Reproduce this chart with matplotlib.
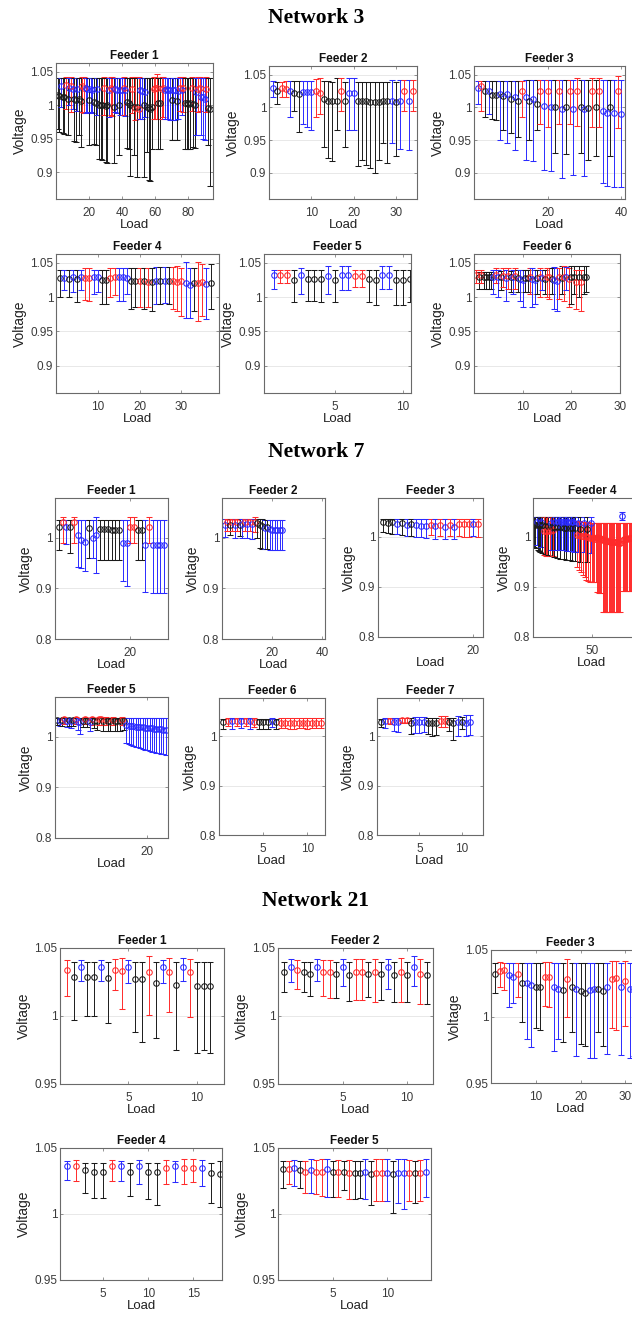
import numpy as np
import matplotlib.pyplot as plt

plt.rcParams['font.family'] = ['Liberation Sans', 'DejaVu Sans']

W, H = 632, 1323
COLORS = {'k': '#1a1a1a', 'b': '#2a2aff', 'r': '#ff2a2a'}

# ---------------- Network 3 ----------------
n3f1_phase = ("kkbkkrkbrb" "kkbkkrrbbk" "bbkkbkkkrk" "kbrrkbbkbb" "rbkkkrkrkr"
              "bbkbkkkkrr" "rkkrrbbbbk" "bbkbrbrkkk" "krkkbrrbbb" "rkk")
n3f1_mean = [1.015, 1.013, 1.028, 1.012, 1.012, 1.030, 1.010, 1.025, 1.028, 1.024,
             1.010, 1.008, 1.024, 1.010, 1.006, 1.028, 1.026, 1.025, 1.024, 1.008,
             1.024, 1.023, 1.005, 1.003, 1.024, 1.001, 1.000, 1.000, 1.026, 0.999,
             1.000, 1.022, 1.025, 1.024, 0.998, 1.024, 1.023, 1.000, 1.023, 1.022,
             1.025, 1.022, 1.005, 1.003, 1.000, 1.024, 0.998, 0.996, 0.997, 0.995,
             1.022, 1.021, 1.000, 1.020, 0.998, 0.996, 0.995, 0.997, 1.024, 1.025,
             1.026, 1.004, 1.004, 1.024, 1.025, 1.023, 1.024, 1.022, 1.023, 1.008,
             1.022, 1.023, 1.006, 1.021, 1.025, 1.022, 1.025, 1.003, 1.003, 1.002,
             1.003, 1.025, 1.002, 1.001, 1.020, 1.024, 1.025, 1.012, 1.012, 1.010,
             1.024, 0.996, 0.995]
n3f1_low = [0.965, 0.960, 0.998, 0.958, 0.957, 0.995, 0.956, 1.000, 0.990, 0.995,
            0.946, 0.945, 0.992, 0.955, 0.938, 0.990, 0.988, 0.988, 0.990, 0.940,
            0.990, 0.988, 0.942, 0.940, 0.985, 0.920, 0.919, 0.918, 0.985, 0.915,
            0.914, 0.982, 0.985, 0.984, 0.914, 0.990, 0.988, 0.925, 0.985, 0.985,
            0.985, 0.984, 0.936, 0.935, 0.895, 0.988, 0.925, 0.978, 0.893, 0.980,
            0.980, 0.980, 0.893, 0.982, 0.930, 0.888, 0.887, 0.935, 0.980, 0.980,
            0.980, 0.935, 0.935, 0.980, 0.982, 0.980, 0.980, 0.980, 0.978, 0.948,
            0.978, 0.978, 0.948, 0.980, 0.992, 0.985, 0.990, 0.935, 0.935, 0.935,
            0.935, 0.992, 0.937, 0.936, 0.955, 0.990, 0.992, 0.955, 0.950, 0.948,
            0.990, 0.940, 0.880]
n3f1_high = [1.040, 1.040, 1.041, 1.040, 1.040, 1.042, 1.040, 1.041, 1.042, 1.041,
             1.040, 1.040, 1.041, 1.040, 1.040, 1.042, 1.042, 1.041, 1.041, 1.040,
             1.041, 1.041, 1.040, 1.040, 1.041, 1.040, 1.040, 1.040, 1.042, 1.040,
             1.040, 1.041, 1.042, 1.042, 1.040, 1.041, 1.041, 1.040, 1.041, 1.041,
             1.042, 1.041, 1.040, 1.040, 1.040, 1.042, 1.040, 1.042, 1.040, 1.042,
             1.041, 1.041, 1.040, 1.041, 1.040, 1.040, 1.040, 1.040, 1.042, 1.042,
             1.047, 1.040, 1.040, 1.042, 1.042, 1.041, 1.041, 1.041, 1.041, 1.040,
             1.041, 1.041, 1.040, 1.041, 1.042, 1.041, 1.042, 1.040, 1.040, 1.040,
             1.040, 1.042, 1.040, 1.040, 1.041, 1.042, 1.042, 1.041, 1.041, 1.041,
             1.042, 1.040, 1.040]

n3f2_phase = "bkrrbkkbbb" "rrkkkkrkbb" "kkkkkkkkbk" "brbr"
n3f2_mean = [1.030, 1.025, 1.030, 1.028, 1.025, 1.022, 1.020, 1.024, 1.024, 1.023,
             1.025, 1.022, 1.012, 1.010, 1.010, 1.009, 1.025, 1.010, 1.022, 1.022,
             1.010, 1.010, 1.009, 1.008, 1.008, 1.008, 1.010, 1.009, 1.010, 1.008,
             1.010, 1.025, 1.010, 1.025]
n3f2_low = [1.015, 1.005, 1.016, 1.015, 0.985, 0.995, 0.962, 0.975, 0.970, 0.965,
            0.985, 0.990, 0.940, 0.922, 0.918, 0.965, 0.995, 0.940, 0.965, 0.965,
            0.910, 0.920, 0.912, 0.908, 0.900, 0.920, 0.945, 0.915, 0.945, 0.925,
            0.937, 0.995, 0.935, 0.995]
n3f2_high = [1.040, 1.038, 1.038, 1.040, 1.040, 1.040, 1.040, 1.040, 1.040, 1.040,
             1.043, 1.045, 1.040, 1.040, 1.038, 1.045, 1.045, 1.038, 1.045, 1.045,
             1.038, 1.038, 1.038, 1.038, 1.038, 1.038, 1.038, 1.038, 1.042, 1.038,
             1.042, 1.042, 1.042, 1.042]

n3f3_phase = "brkbkkbkbk" "bkrbkbkrbr" "bkrbkrbrkb" "krkrbbkbrb"
n3f3_mean = [1.030, 1.032, 1.025, 1.025, 1.018, 1.018, 1.020, 1.017, 1.020, 1.012,
             1.015, 1.010, 1.025, 1.015, 1.010, 1.012, 1.005, 1.025, 1.002, 1.025,
             1.000, 1.000, 1.025, 0.998, 1.000, 1.025, 0.998, 1.025, 1.000, 0.998,
             0.999, 1.025, 1.000, 1.025, 0.995, 0.992, 1.000, 0.991, 1.025, 0.990]
n3f3_low = [1.005, 0.995, 0.985, 0.990, 0.982, 0.980, 0.950, 0.965, 0.945, 0.960,
            0.935, 0.955, 0.985, 0.920, 0.950, 0.918, 0.965, 0.975, 0.905, 0.970,
            0.902, 0.930, 0.975, 0.892, 0.928, 0.975, 0.896, 0.972, 0.930, 0.895,
            0.920, 0.970, 0.925, 0.970, 0.885, 0.880, 0.925, 0.878, 0.968, 0.878]
n3f3_high = [1.040, 1.040, 1.040, 1.040, 1.040, 1.040, 1.040, 1.040, 1.040, 1.040,
             1.040, 1.040, 1.040, 1.042, 1.042, 1.042, 1.042, 1.042, 1.042, 1.042,
             1.042, 1.042, 1.042, 1.042, 1.042, 1.042, 1.042, 1.045, 1.042, 1.042,
             1.042, 1.045, 1.042, 1.045, 1.042, 1.042, 1.042, 1.042, 1.047, 1.042]

n3f4_phase = "kbkbkbrrbb" "kkrrbbbkkr" "krkbkbkrrr" "bbkrrbk"
n3f4_mean = [1.028, 1.028, 1.027, 1.029, 1.027, 1.030, 1.028, 1.028, 1.030, 1.029,
             1.025, 1.025, 1.028, 1.029, 1.029, 1.030, 1.028, 1.024, 1.023, 1.023,
             1.023, 1.022, 1.022, 1.024, 1.023, 1.024, 1.024, 1.023, 1.022, 1.024,
             1.020, 1.018, 1.021, 1.021, 1.022, 1.019, 1.021]
n3f4_low = [1.000, 1.010, 1.000, 1.008, 0.993, 1.010, 0.996, 0.995, 1.005, 1.008,
            0.990, 0.990, 1.000, 1.003, 0.995, 0.995, 1.005, 0.982, 0.985, 0.985,
            0.983, 0.985, 0.980, 0.990, 0.990, 0.992, 0.990, 0.982, 0.980, 0.972,
            0.970, 0.970, 0.980, 0.965, 0.972, 0.968, 0.982]
n3f4_high = [1.040, 1.040, 1.040, 1.040, 1.040, 1.040, 1.042, 1.042, 1.040, 1.040,
             1.040, 1.040, 1.042, 1.042, 1.043, 1.043, 1.043, 1.043, 1.043, 1.043,
             1.043, 1.043, 1.043, 1.044, 1.044, 1.044, 1.044, 1.044, 1.046, 1.043,
             1.052, 1.042, 1.043, 1.052, 1.048, 1.042, 1.048]

n3f5_phase = "brrkbkkkbk" "bbrrkkbbkk" "k"
n3f5_mean = [1.032, 1.033, 1.033, 1.025, 1.032, 1.027, 1.027, 1.026, 1.031, 1.025,
             1.032, 1.032, 1.031, 1.031, 1.026, 1.025, 1.032, 1.033, 1.025, 1.025,
             1.026]
n3f5_low = [1.012, 1.020, 1.020, 0.993, 1.005, 0.995, 0.995, 0.993, 1.005, 0.993,
            1.010, 1.010, 1.015, 1.015, 0.993, 0.988, 1.012, 1.012, 0.988, 0.988,
            0.993]
n3f5_high = [1.040, 1.040, 1.040, 1.040, 1.043, 1.040, 1.040, 1.040, 1.045, 1.040,
             1.045, 1.045, 1.040, 1.040, 1.040, 1.040, 1.045, 1.045, 1.040, 1.040,
             1.040]

n3f6_phase = "rkrkkkkbrb" "krbrkbrkbb" "kkrbbkrbkr" "rkbbrkrbrk" "krkrkk"
n3f6_mean = [1.033, 1.030, 1.033, 1.029, 1.029, 1.029, 1.029, 1.030, 1.032, 1.029,
             1.029, 1.031, 1.028, 1.031, 1.029, 1.029, 1.031, 1.028, 1.026, 1.025,
             1.028, 1.028, 1.030, 1.026, 1.025, 1.028, 1.030, 1.028, 1.027, 1.030,
             1.030, 1.027, 1.025, 1.024, 1.030, 1.028, 1.029, 1.030, 1.026, 1.030,
             1.029, 1.022, 1.030, 1.022, 1.030, 1.030]
n3f6_low = [1.020, 1.012, 1.020, 1.012, 1.012, 1.012, 1.012, 1.005, 1.020, 1.000,
            1.010, 1.015, 0.995, 1.012, 1.008, 1.005, 1.012, 1.008, 0.995, 0.985,
            1.008, 1.008, 1.005, 0.985, 0.990, 1.005, 1.000, 1.010, 1.005, 1.000,
            0.998, 1.005, 0.982, 0.980, 0.998, 1.005, 0.995, 1.010, 0.985, 0.990,
            1.005, 0.982, 1.000, 0.980, 1.005, 1.007]
n3f6_high = [1.040, 1.036, 1.040, 1.036, 1.036, 1.036, 1.036, 1.040, 1.042, 1.040,
             1.038, 1.042, 1.040, 1.042, 1.038, 1.040, 1.042, 1.040, 1.040, 1.040,
             1.040, 1.040, 1.042, 1.042, 1.040, 1.040, 1.042, 1.040, 1.040, 1.042,
             1.042, 1.042, 1.044, 1.042, 1.042, 1.046, 1.045, 1.044, 1.042, 1.045,
             1.046, 1.040, 1.045, 1.040, 1.046, 1.046]

# ---------------- Network 7 ----------------
n7f1_phase = "krbkrbbbkb" "bkkkkkkbbr" "rkkbrbbbb"
n7f1_mean = [1.020, 1.030, 1.020, 1.020, 1.030, 1.005, 0.995, 0.992, 1.018, 1.000,
             1.005, 1.016, 1.016, 1.016, 1.015, 1.015, 1.015, 0.990, 0.990, 1.020,
             1.020, 1.015, 1.015, 0.985, 1.020, 0.985, 0.985, 0.985, 0.985]
n7f1_low = [0.975, 0.990, 0.988, 0.970, 0.990, 0.942, 0.940, 0.935, 0.960, 0.960,
            0.930, 0.955, 0.955, 0.955, 0.955, 0.955, 0.955, 0.915, 0.905, 0.990,
            0.990, 0.955, 0.955, 0.892, 0.990, 0.890, 0.890, 0.890, 0.890]
n7f1_high = [1.035, 1.040, 1.035, 1.035, 1.040, 1.035, 1.035, 1.035, 1.035, 1.035,
             1.040, 1.035, 1.035, 1.035, 1.035, 1.035, 1.035, 1.035, 1.035, 1.040,
             1.040, 1.035, 1.035, 1.035, 1.040, 1.035, 1.035, 1.035, 1.035]

n7f2_phase = "brkrbrkbrb" "rbrkkkbkbb" "bbbb"
n7f2_mean = [1.025, 1.030, 1.025, 1.030, 1.025, 1.030, 1.025, 1.026, 1.030, 1.026,
             1.030, 1.026, 1.030, 1.028, 1.025, 1.022, 1.018, 1.020, 1.016, 1.015,
             1.015, 1.015, 1.015, 1.015]
n7f2_low = [1.002, 1.012, 1.005, 1.012, 1.000, 1.012, 1.004, 1.000, 1.012, 1.000,
            1.012, 0.998, 1.010, 1.000, 0.980, 0.978, 0.978, 0.978, 0.976, 0.976,
            0.976, 0.976, 0.976, 0.976]
n7f2_high = [1.036, 1.036, 1.036, 1.036, 1.036, 1.036, 1.036, 1.036, 1.036, 1.036,
             1.036, 1.036, 1.040, 1.036, 1.036, 1.036, 1.035, 1.035, 1.035, 1.035,
             1.035, 1.035, 1.035, 1.035]

n7f3_phase = "kkkbkbkbbb" "rbrbrbrrrb" "r"
n7f3_mean = [1.030, 1.029, 1.030, 1.026, 1.028, 1.025, 1.027, 1.024, 1.023, 1.023,
             1.025, 1.022, 1.024, 1.021, 1.025, 1.021, 1.026, 1.026, 1.026, 1.027,
             1.026]
n7f3_low = [1.010, 1.008, 1.006, 1.006, 1.004, 1.003, 1.002, 1.000, 1.000, 0.999,
            1.005, 0.997, 1.003, 0.996, 1.002, 0.996, 1.002, 1.001, 1.001, 1.003,
            1.001]
n7f3_high = [1.037, 1.037, 1.037, 1.036, 1.037, 1.036, 1.037, 1.036, 1.036, 1.036,
             1.037, 1.036, 1.037, 1.036, 1.037, 1.036, 1.037, 1.037, 1.037, 1.036,
             1.037]

n7f4_phase = ("kkbkkkbk" "rkrrkrbkrk" "bkbbkbbkbkbbkbkbbk" "rbrkrrbrrkrrbrrrr"
              "rrrrrrrrrrrrrrrrrrrrrbrrrrrrrrr")
n7f4_mean = [1.026, 1.025, 1.030, 1.025, 1.024, 1.024, 1.030, 1.024,
             1.012, 1.023, 1.013, 1.012, 1.022, 1.013, 1.028, 1.021, 1.014, 1.020,
             1.030, 1.020, 1.030, 1.031, 1.020, 1.030, 1.030, 1.019, 1.030, 1.019,
             1.031, 1.030, 1.018, 1.030, 1.018, 1.030, 1.029, 1.018,
             1.005, 1.029, 1.004, 1.017, 1.003, 1.003, 1.028, 1.002, 1.000, 1.016,
             1.000, 0.999, 1.028, 0.998, 0.998, 0.997, 0.996,
             1.000, 0.999, 0.998, 0.998, 0.997, 0.995, 0.994, 0.993, 0.993, 0.992,
             0.992, 0.991, 0.991, 0.990, 0.990, 0.990, 0.990, 0.990, 0.989, 0.989,
             0.989, 1.042, 0.995, 0.996, 0.996, 0.997, 0.997, 0.998, 0.998, 0.998,
             0.998]
n7f4_low = [0.980, 0.978, 0.985, 0.975, 0.972, 0.970, 0.980, 0.968,
            0.965, 0.966, 0.963, 0.962, 0.964, 0.962, 0.975, 0.962, 0.962, 0.960,
            0.975, 0.958, 0.975, 0.975, 0.957, 0.974, 0.974, 0.956, 0.974, 0.955,
            0.973, 0.973, 0.954, 0.972, 0.953, 0.972, 0.971, 0.952,
            0.940, 0.970, 0.935, 0.951, 0.930, 0.925, 0.970, 0.920, 0.915, 0.950,
            0.912, 0.910, 0.968, 0.910, 0.910, 0.910, 0.910,
            0.890, 0.890, 0.888, 0.888, 0.888, 0.851, 0.850, 0.850, 0.850, 0.850,
            0.850, 0.850, 0.850, 0.850, 0.850, 0.850, 0.850, 0.850, 0.850, 0.850,
            0.850, 1.034, 0.893, 0.893, 0.893, 0.893, 0.893, 0.893, 0.893, 0.893,
            0.893]
n7f4_high = [1.040, 1.040, 1.040, 1.040, 1.040, 1.040, 1.040, 1.040,
             1.040, 1.040, 1.040, 1.040, 1.040, 1.040, 1.040, 1.040, 1.040, 1.040,
             1.040, 1.040, 1.040, 1.040, 1.040, 1.040, 1.040, 1.040, 1.040, 1.040,
             1.040, 1.040, 1.040, 1.040, 1.040, 1.040, 1.040, 1.040,
             1.032, 1.040, 1.032, 1.040, 1.031, 1.031, 1.040, 1.030, 1.030, 1.040,
             1.030, 1.029, 1.040, 1.029, 1.029, 1.028, 1.028,
             1.028, 1.028, 1.028, 1.028, 1.028, 1.028, 1.028, 1.028, 1.028, 1.028,
             1.028, 1.028, 1.028, 1.028, 1.028, 1.028, 1.028, 1.028, 1.028, 1.028,
             1.028, 1.050, 1.028, 1.028, 1.028, 1.028, 1.028, 1.028, 1.028, 1.028,
             1.028]

n7f5_phase = "kbkrbkbkrb" "bkrkbrkkrr" "krkkrkkkrk" "bbbbbbbbbbbbbbbbbb"
n7f5_mean = [1.032, 1.031, 1.032, 1.034, 1.030, 1.032, 1.030, 1.032, 1.034, 1.029,
             1.028, 1.031, 1.034, 1.031, 1.028, 1.034, 1.031, 1.030, 1.034, 1.034,
             1.030, 1.033, 1.030, 1.030, 1.033, 1.030, 1.030, 1.030, 1.033, 1.031,
             1.022, 1.021, 1.020, 1.020, 1.019, 1.019, 1.018, 1.018, 1.017, 1.017,
             1.016, 1.016, 1.015, 1.015, 1.014, 1.014, 1.013, 1.013]
n7f5_low = [1.022, 1.020, 1.021, 1.025, 1.018, 1.020, 1.016, 1.020, 1.024, 1.012,
            1.005, 1.019, 1.024, 1.018, 1.010, 1.023, 1.016, 1.012, 1.023, 1.023,
            1.011, 1.022, 1.011, 1.011, 1.022, 1.011, 1.011, 1.011, 1.022, 1.012,
            0.988, 0.986, 0.984, 0.982, 0.980, 0.979, 0.977, 0.976, 0.974, 0.973,
            0.971, 0.970, 0.969, 0.968, 0.967, 0.966, 0.965, 0.964]
n7f5_high = [1.037, 1.037, 1.037, 1.038, 1.037, 1.037, 1.037, 1.037, 1.038, 1.037,
             1.037, 1.037, 1.038, 1.037, 1.037, 1.038, 1.037, 1.037, 1.038, 1.038,
             1.037, 1.038, 1.037, 1.037, 1.038, 1.037, 1.037, 1.037, 1.038, 1.037,
             1.037, 1.037, 1.037, 1.037, 1.037, 1.037, 1.037, 1.037, 1.037, 1.037,
             1.037, 1.037, 1.037, 1.037, 1.037, 1.037, 1.037, 1.037]

n7f6_phase = "krbrbrbrkk" "kbkrrrrrrr" "rrr"
n7f6_mean = [1.030, 1.031, 1.032, 1.031, 1.032, 1.031, 1.032, 1.030, 1.029, 1.029,
             1.029, 1.032, 1.030, 1.028, 1.028, 1.028, 1.028, 1.028, 1.028, 1.028,
             1.028, 1.028, 1.028]
n7f6_low = [1.015, 1.022, 1.016, 1.022, 1.018, 1.022, 1.016, 1.020, 1.016, 1.016,
            1.016, 1.020, 1.016, 1.017, 1.017, 1.016, 1.016, 1.017, 1.017, 1.016,
            1.017, 1.017, 1.017]
n7f6_high = [1.036, 1.037, 1.038, 1.037, 1.038, 1.037, 1.038, 1.037, 1.036, 1.036,
             1.036, 1.038, 1.036, 1.037, 1.037, 1.037, 1.037, 1.037, 1.037, 1.037,
             1.037, 1.037, 1.037]

n7f7_phase = "kbrbbrrkbb" "bkkkrrkkbk" "bb"
n7f7_mean = [1.030, 1.032, 1.032, 1.030, 1.030, 1.033, 1.033, 1.028, 1.030, 1.030,
             1.030, 1.028, 1.028, 1.028, 1.032, 1.032, 1.029, 1.028, 1.030, 1.030,
             1.028, 1.030]
n7f7_low = [1.020, 1.018, 1.025, 1.012, 1.010, 1.027, 1.027, 1.005, 1.006, 1.006,
            1.008, 1.004, 1.000, 1.002, 1.020, 1.020, 1.012, 0.993, 1.000, 1.015,
            1.000, 1.002]
n7f7_high = [1.036, 1.038, 1.037, 1.038, 1.038, 1.038, 1.038, 1.037, 1.040, 1.040,
             1.040, 1.037, 1.037, 1.037, 1.042, 1.042, 1.038, 1.038, 1.042, 1.040,
             1.044, 1.044]

# ---------------- Network 21 ----------------
n21f1_phase = "rkbkkbkrrb" "kkrkbrkbrk" "kk"
n21f1_mean = [1.034, 1.029, 1.036, 1.029, 1.029, 1.036, 1.028, 1.034, 1.033, 1.036,
              1.027, 1.027, 1.032, 1.024, 1.036, 1.032, 1.023, 1.036, 1.032, 1.022,
              1.022, 1.022]
n21f1_low = [1.015, 0.997, 1.026, 1.000, 1.000, 1.026, 0.995, 1.019, 1.005, 1.024,
             0.988, 0.981, 1.001, 0.984, 1.024, 1.003, 0.975, 1.026, 0.999, 0.973,
             0.975, 0.973]
n21f1_high = [1.041, 1.040, 1.041, 1.040, 1.040, 1.041, 1.040, 1.042, 1.043, 1.041,
              1.040, 1.040, 1.044, 1.040, 1.041, 1.043, 1.040, 1.043, 1.042, 1.040,
              1.040, 1.040]

n21f2_phase = "kbrkkbrrkb" "krrkrkbkrk" "brk"
n21f2_mean = [1.032, 1.036, 1.034, 1.032, 1.031, 1.036, 1.032, 1.032, 1.031, 1.036,
              1.030, 1.032, 1.032, 1.031, 1.032, 1.031, 1.036, 1.030, 1.032, 1.030,
              1.036, 1.031, 1.030]
n21f2_low = [1.018, 1.025, 1.020, 1.018, 1.015, 1.026, 1.015, 1.013, 1.013, 1.022,
             1.011, 1.012, 1.012, 1.014, 1.010, 1.012, 1.020, 1.010, 1.010, 1.010,
             1.022, 1.009, 1.009]
n21f2_high = [1.040, 1.042, 1.041, 1.040, 1.040, 1.042, 1.041, 1.041, 1.040, 1.042,
              1.040, 1.042, 1.042, 1.040, 1.042, 1.040, 1.042, 1.040, 1.043, 1.040,
              1.044, 1.042, 1.040]

n21f3_phase = "krrbbrkbbk" "krrbbkrkbk" "kbbkkbrrbr" "bbrkb"
n21f3_mean = [1.032, 1.034, 1.035, 1.031, 1.030, 1.032, 1.025, 1.025, 1.024, 1.022,
              1.022, 1.030, 1.030, 1.022, 1.021, 1.020, 1.028, 1.022, 1.021, 1.019,
              1.018, 1.020, 1.021, 1.021, 1.019, 1.022, 1.028, 1.029, 1.022, 1.027,
              1.021, 1.021, 1.027, 1.020, 1.021]
n21f3_low = [1.018, 1.022, 1.020, 1.007, 1.010, 1.015, 0.996, 0.983, 0.977, 0.991,
             0.990, 1.008, 1.007, 0.974, 0.983, 0.981, 1.000, 0.988, 0.970, 0.979,
             0.978, 0.969, 0.969, 0.988, 0.978, 0.972, 0.991, 0.990, 0.971, 0.993,
             0.969, 0.970, 0.992, 0.980, 0.970]
n21f3_high = [1.040, 1.041, 1.040, 1.040, 1.040, 1.040, 1.040, 1.040, 1.040, 1.040,
              1.040, 1.041, 1.041, 1.040, 1.040, 1.040, 1.043, 1.040, 1.040, 1.040,
              1.040, 1.040, 1.040, 1.040, 1.040, 1.040, 1.042, 1.042, 1.040, 1.042,
              1.040, 1.040, 1.042, 1.040, 1.040]

n21f4_phase = "brkkkrbkbk" "krbrrbkk"
n21f4_mean = [1.036, 1.036, 1.033, 1.032, 1.032, 1.036, 1.036, 1.032, 1.036, 1.032,
              1.032, 1.035, 1.036, 1.035, 1.035, 1.035, 1.031, 1.030]
n21f4_low = [1.026, 1.025, 1.016, 1.012, 1.012, 1.025, 1.025, 1.014, 1.023, 1.011,
             1.007, 1.023, 1.024, 1.023, 1.024, 1.021, 1.008, 1.005]
n21f4_high = [1.040, 1.041, 1.039, 1.039, 1.039, 1.041, 1.040, 1.039, 1.041, 1.039,
              1.039, 1.041, 1.040, 1.042, 1.042, 1.041, 1.039, 1.040]

n21f5_phase = "krbkrbrrbk" "rkrkkbkrrb" "kbbrkrb"
n21f5_mean = [1.034, 1.034, 1.035, 1.033, 1.032, 1.033, 1.032, 1.032, 1.034, 1.032,
              1.032, 1.032, 1.031, 1.031, 1.031, 1.032, 1.030, 1.031, 1.031, 1.031,
              1.030, 1.031, 1.031, 1.031, 1.031, 1.031, 1.032]
n21f5_low = [1.020, 1.023, 1.021, 1.020, 1.016, 1.016, 1.015, 1.014, 1.013, 1.013,
             1.013, 1.018, 1.011, 1.011, 1.012, 1.011, 1.007, 1.010, 1.010, 1.010,
             1.001, 1.008, 1.004, 1.010, 1.008, 1.010, 1.013]
n21f5_high = [1.040, 1.040, 1.041, 1.040, 1.040, 1.042, 1.041, 1.042, 1.042, 1.040,
              1.041, 1.040, 1.041, 1.040, 1.040, 1.042, 1.040, 1.042, 1.042, 1.042,
              1.040, 1.042, 1.042, 1.041, 1.040, 1.041, 1.042]

# ---------------- layout (pixel boxes: left, top, right, bottom) ----------------
net_titles = [("Network 3", 18), ("Network 7", 452), ("Network 21", 901)]

n3_y = ((0.86, 1.063), [0.9, 0.95, 1.0, 1.05])
n7_y = ((0.8, 1.078), [0.8, 0.9, 1.0])
n21_y = ((0.95, 1.05), [0.95, 1.0, 1.05])

panels = [
    # name, box, data, step, xlim, xticks, y
    ("Feeder 1", (56, 63, 213, 199), (n3f1_phase, n3f1_mean, n3f1_low, n3f1_high), 1, (0, 95), [20, 40, 60, 80], n3_y),
    ("Feeder 2", (269, 66, 417, 199), (n3f2_phase, n3f2_mean, n3f2_low, n3f2_high), 1, (0, 35), [10, 20, 30], n3_y),
    ("Feeder 3", (474, 66, 625, 199), (n3f3_phase, n3f3_mean, n3f3_low, n3f3_high), 1, (0, 41), [20, 40], n3_y),
    ("Feeder 4", (56, 254, 219, 393), (n3f4_phase, n3f4_mean, n3f4_low, n3f4_high), 1, (0, 39), [10, 20, 30], n3_y),
    ("Feeder 5", (264, 254, 411, 393), (n3f5_phase, n3f5_mean, n3f5_low, n3f5_high), 0.5, (-0.2, 10.6), [5, 10], n3_y),
    ("Feeder 6", (474, 254, 620, 393), (n3f6_phase, n3f6_mean, n3f6_low, n3f6_high), 0.5, (0, 30), [10, 20, 30], n3_y),

    ("Feeder 1", (55, 498, 168, 639), (n7f1_phase, n7f1_mean, n7f1_low, n7f1_high), 1, (0, 30), [20], n7_y),
    ("Feeder 2", (222, 498, 325, 639), (n7f2_phase, n7f2_mean, n7f2_low, n7f2_high), 1, (0, 41), [20, 40], n7_y),
    ("Feeder 3", (378, 498, 483, 637), (n7f3_phase, n7f3_mean, n7f3_low, n7f3_high), 1, (0, 22), [20], n7_y),
    ("Feeder 4", (533, 498, 651, 637), (n7f4_phase, n7f4_mean, n7f4_low, n7f4_high), 1, (0, 100), [50], n7_y),
    ("Feeder 5", (55, 697, 168, 838), (n7f5_phase, n7f5_mean, n7f5_low, n7f5_high), 0.5, (0, 24.5), [20], n7_y),
    ("Feeder 6", (219, 698, 325, 835), (n7f6_phase, n7f6_mean, n7f6_low, n7f6_high), 0.5, (0, 12), [5, 10], n7_y),
    ("Feeder 7", (377, 698, 483, 835), (n7f7_phase, n7f7_mean, n7f7_low, n7f7_high), 0.5, (0, 12.5), [5, 10], n7_y),

    ("Feeder 1", (60, 948, 224, 1084), (n21f1_phase, n21f1_mean, n21f1_low, n21f1_high), 0.5, (0, 12), [5, 10], n21_y),
    ("Feeder 2", (278, 948, 433, 1084), (n21f2_phase, n21f2_mean, n21f2_low, n21f2_high), 0.5, (0, 12), [5, 10], n21_y),
    ("Feeder 3", (491, 950, 650, 1083), (n21f3_phase, n21f3_mean, n21f3_low, n21f3_high), 1, (0, 35.5), [10, 20, 30], n21_y),
    ("Feeder 4", (60, 1148, 222, 1280), (n21f4_phase, n21f4_mean, n21f4_low, n21f4_high), 1, (0.2, 18.2), [5, 10, 15], n21_y),
    ("Feeder 5", (278, 1148, 431, 1280), (n21f5_phase, n21f5_mean, n21f5_low, n21f5_high), 0.5, (0, 14), [5, 10], n21_y),
]


def draw_feeder(fig, name, box, data, step, xlim, xticks, yinfo):
    phase, mean, low, high = data
    l, t, r, b = box
    ax = fig.add_axes([l / W, 1 - b / H, (r - l) / W, (b - t) / H])
    x = step * np.arange(1, len(mean) + 1)
    for i in range(len(mean)):
        c = COLORS[phase[i]]
        lo = max(mean[i] - low[i], 0)
        hi = max(high[i] - mean[i], 0)
        ax.errorbar(x[i], mean[i], yerr=[[lo], [hi]], fmt='o', color=c,
                    ms=4, mfc='none', mew=0.75, elinewidth=0.7,
                    capsize=2.2, capthick=0.7)
    ylim, yticks = yinfo
    ax.set_xlim(xlim)
    ax.set_ylim(ylim)
    ax.set_xticks(xticks)
    ax.set_yticks(yticks)
    ax.set_yticklabels([f"{v:g}" for v in yticks])
    ax.yaxis.grid(True, color='#e4e4e4', lw=0.6)
    ax.set_axisbelow(True)
    for s in ax.spines.values():
        s.set_color('#6a6a6a')
        s.set_linewidth(0.8)
    ax.tick_params(direction='in', length=2.5, width=0.5, colors='#6a6a6a',
                   labelcolor='#3a3a3a', labelsize=8.5, top=True, right=True)
    ax.tick_params(axis='x', pad=6)
    ax.tick_params(axis='y', pad=2)
    ax.set_title(name, fontsize=8.5, fontweight='bold', pad=3, color='#111111')
    ax.set_xlabel("Load", fontsize=9.5, labelpad=0, color='#222222')
    ax.set_ylabel("Voltage", fontsize=10, labelpad=2, color='#222222')
    return ax


fig = plt.figure(figsize=(W / 100, H / 100), dpi=100)
for name, box, data, step, xlim, xticks, yinfo in panels:
    draw_feeder(fig, name, box, data, step, xlim, xticks, yinfo)

for text, ypix in net_titles:
    fig.text(0.5, 1 - ypix / H, text, ha='center', va='center', fontsize=15.5,
             fontweight='bold', family=['Liberation Serif', 'DejaVu Serif'])

fig.savefig("out.png", dpi=100)
